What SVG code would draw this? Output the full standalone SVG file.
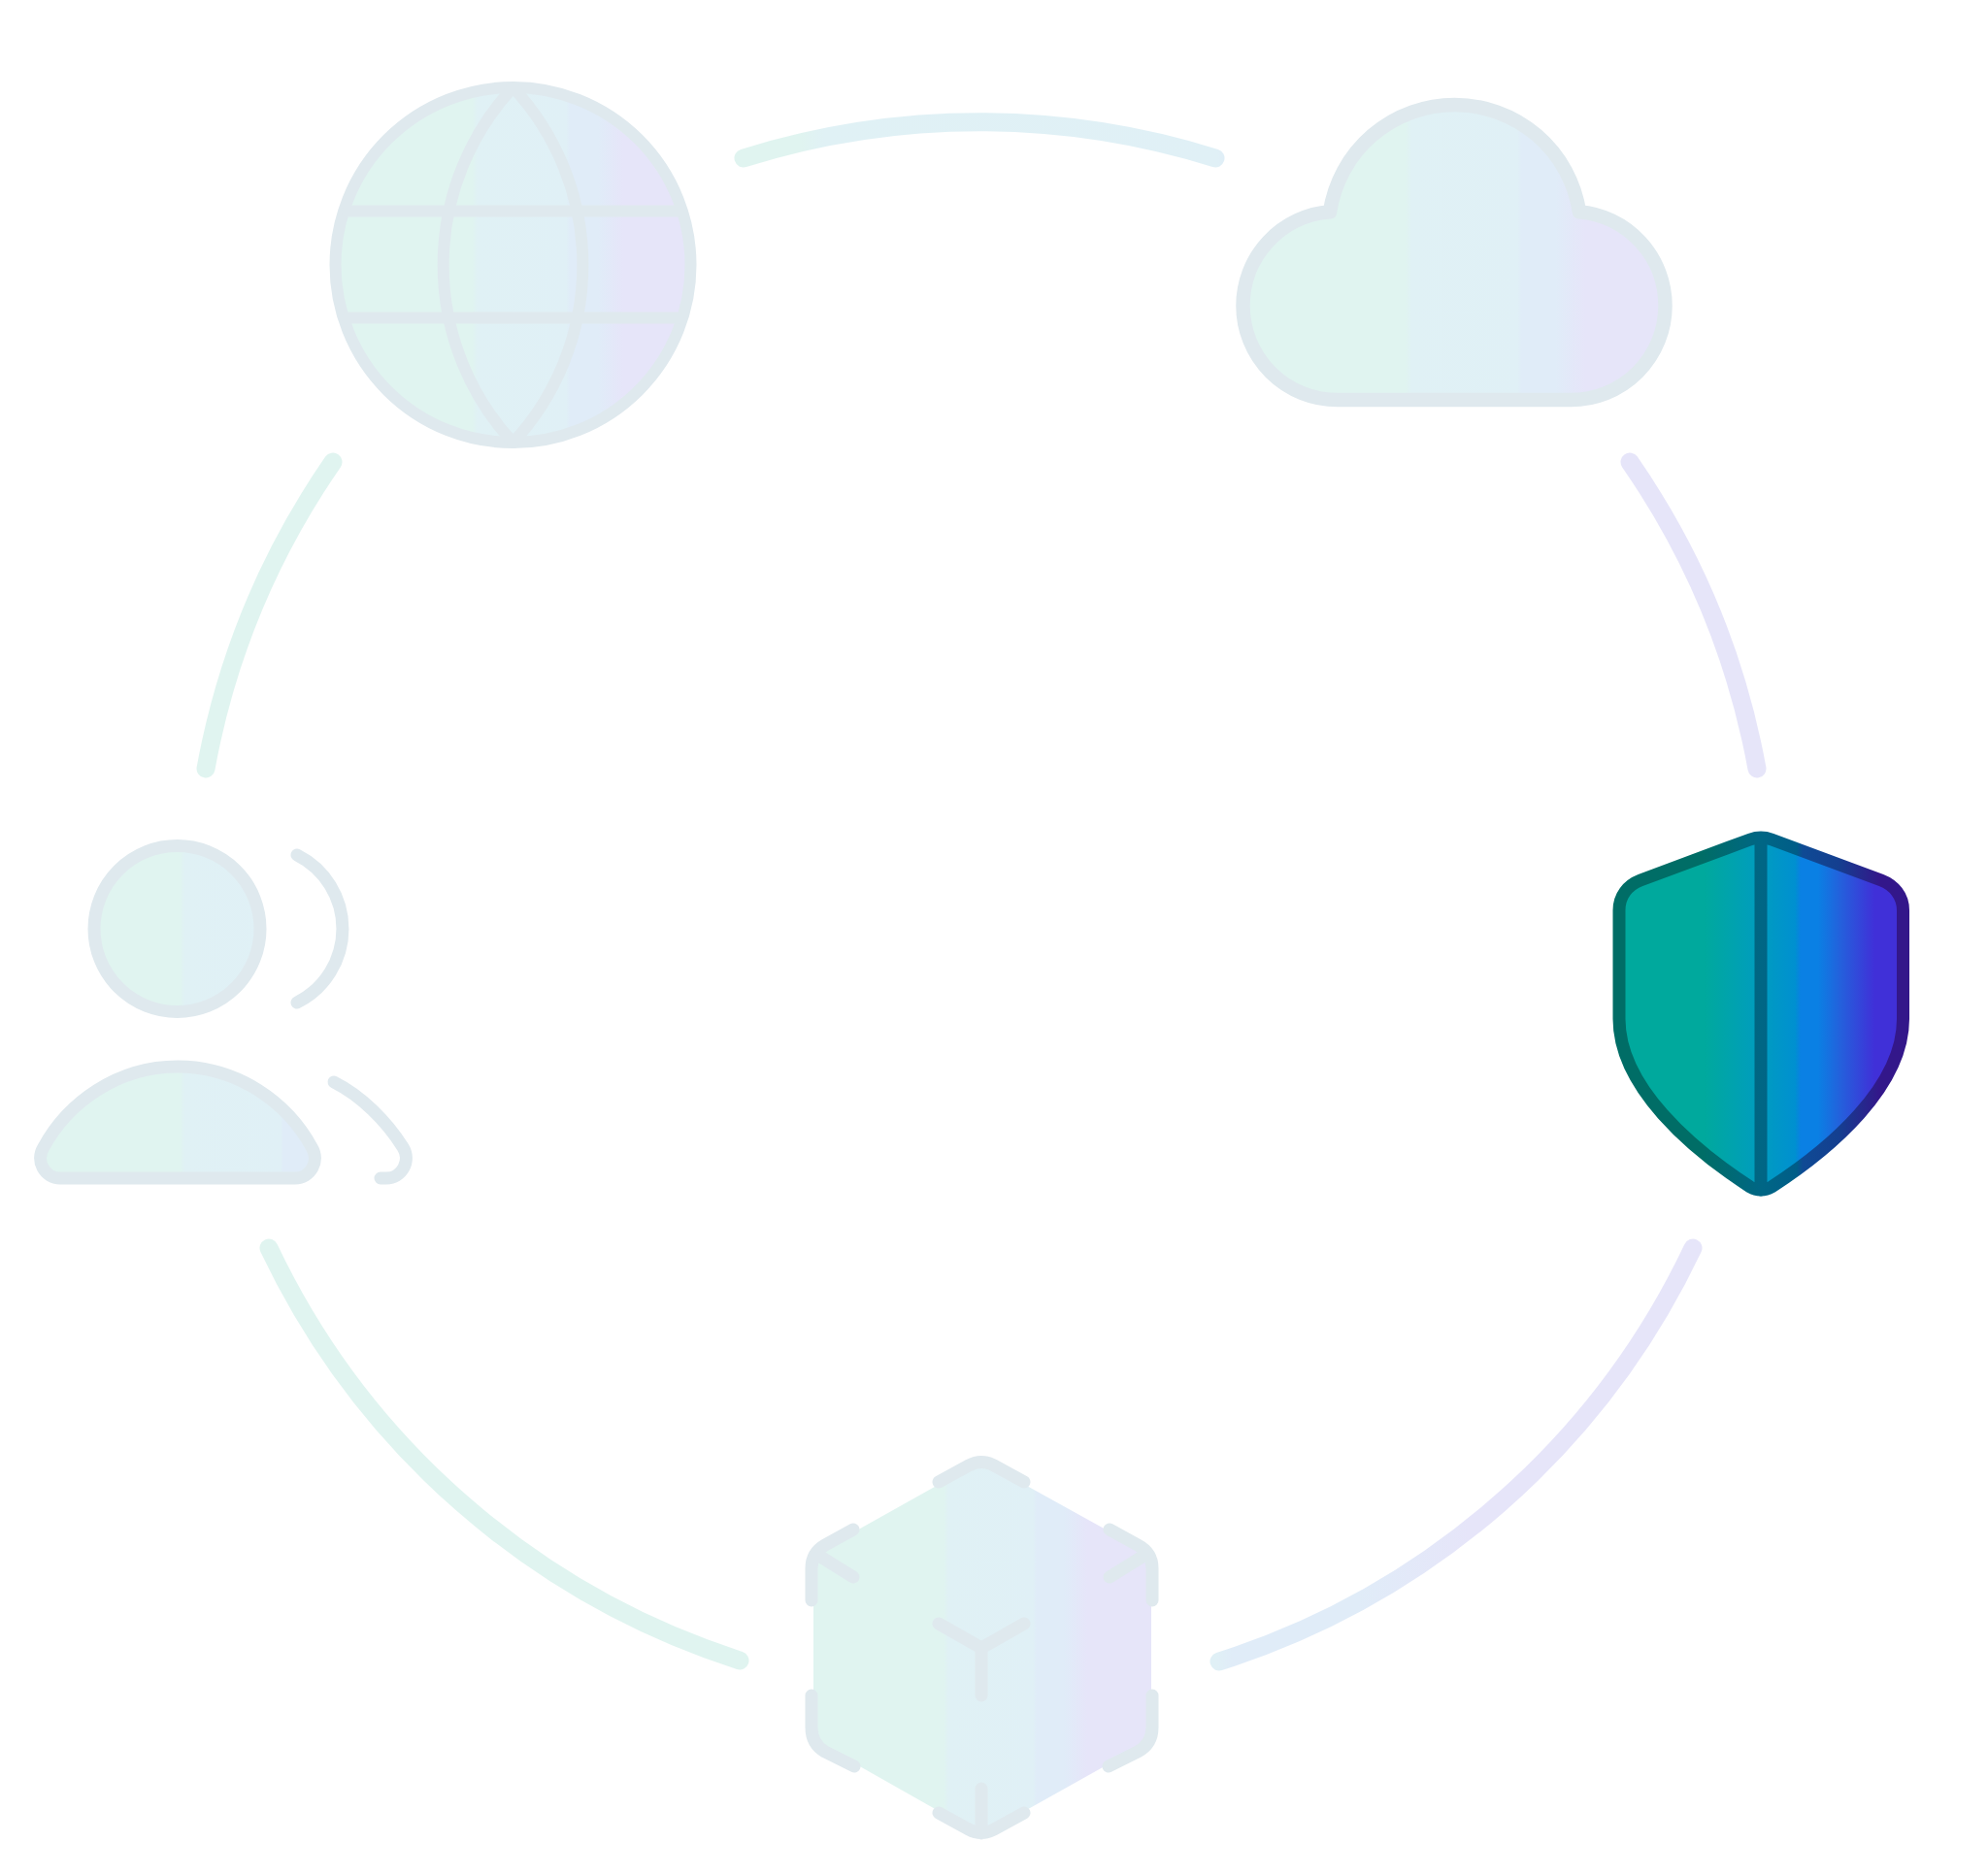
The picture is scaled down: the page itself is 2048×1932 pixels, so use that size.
<svg xmlns="http://www.w3.org/2000/svg" width="2048" height="1932" viewBox="0 0 2048 1932">
<defs>
<linearGradient id="fade"><stop offset="0.385" stop-color="#e0f4f0"/><stop offset="0.4" stop-color="#e0f1f5"/><stop offset="0.65" stop-color="#e0f0f6"/><stop offset="0.66" stop-color="#e0ecf8"/><stop offset="0.74" stop-color="#e0ecf8"/><stop offset="0.81" stop-color="#e6e5f9"/></linearGradient>
<linearGradient id="arcfade" href="#fade" gradientUnits="userSpaceOnUse" x1="202" y1="0" x2="1820" y2="0"/>
<linearGradient id="userfade" href="#fade" gradientUnits="userSpaceOnUse" x1="35" y1="0" x2="425" y2="0"/>
<linearGradient id="sf"><stop offset="0.3" stop-color="#00a99d"/><stop offset="0.5" stop-color="#009cc0"/><stop offset="0.62" stop-color="#0090d0"/><stop offset="0.64" stop-color="#0a80e4"/><stop offset="0.7" stop-color="#0a80e4"/><stop offset="0.78" stop-color="#2460dc"/><stop offset="0.9" stop-color="#4030d8"/></linearGradient>
<linearGradient id="ss" gradientUnits="userSpaceOnUse" x1="1662" y1="0" x2="1967" y2="0"><stop offset="0.3" stop-color="#006d66"/><stop offset="0.5" stop-color="#006685"/><stop offset="0.62" stop-color="#005d88"/><stop offset="0.64" stop-color="#0f4a94"/><stop offset="0.76" stop-color="#143f90"/><stop offset="0.9" stop-color="#33178a"/></linearGradient>
</defs>
<style>
.arc{fill:none;stroke:url(#arcfade);stroke-width:19;stroke-linecap:round}
.f{fill:url(#fade)}
.u{fill:url(#userfade)}
.s{fill:none;stroke:#dfe9ee;stroke-linecap:round;stroke-linejoin:round}
.shield{stroke:url(#ss);stroke-width:13;stroke-linecap:round;stroke-linejoin:round}
</style>
<rect width="2048" height="1932" fill="#fff"/>
<g id="connectors">
<path class="arc" d="M766 163A812 812 0 0 1 1252 163"/>
<path class="arc" d="M1679 476A812 812 0 0 1 1810 792"/>
<path class="arc" d="M1744 1286A812 812 0 0 1 1256 1712"/>
<path class="arc" d="M762 1711A812 812 0 0 1 277 1286"/>
<path class="arc" d="M212 792A812 812 0 0 1 343 476"/>
</g>
<g id="globe">
<circle class="f" cx="528.5" cy="273" r="183"/>
<g class="s" stroke-width="12">
<circle cx="528.5" cy="273" r="183"/>
<path d="M528.5 90A269 269 0 0 0 528.5 456A269 269 0 0 0 528.5 90Z"/>
<path d="M358 217.5H699M358 327.5H699"/>
</g>
</g>
<g id="cloud">
<path class="f" d="M1377.5 412H1618.5A97 97 0 0 0 1715.5 315A97 97 0 0 0 1627 218.3A130 130 0 0 0 1370 218.3A97 97 0 0 0 1280.5 315A97 97 0 0 0 1377.5 412Z"/>
<path class="s" stroke-width="14.5" d="M1377.5 412H1618.5A97 97 0 0 0 1715.5 315A97 97 0 0 0 1627 218.3A130 130 0 0 0 1370 218.3A97 97 0 0 0 1280.5 315A97 97 0 0 0 1377.5 412Z"/>
</g>
<g id="shield">
<path class="shield" fill="url(#sf)" d="M1814 1226Q1808 1226 1803 1223C1743 1184 1668 1120 1668 1050V938C1668 923 1677 912 1690 907L1803 865Q1814 861 1825 865L1938 907C1951 912 1960.5 923 1960.5 938V1050C1960.5 1120 1885 1184 1825 1223Q1820 1226 1814 1226Z"/>
<path class="shield" fill="none" d="M1814 864V1226"/>
</g>
<g id="users">
<circle class="u" cx="182.5" cy="957" r="85.5"/>
<path class="u" d="M62 1214H304C320 1214 330 1196 321 1182C296 1136 245 1099 183 1099C121 1099 70 1136 45 1182C36 1196 46 1214 62 1214Z"/>
<g class="s" stroke-width="13">
<circle cx="182.5" cy="957" r="85.5"/>
<path d="M62 1214H304C320 1214 330 1196 321 1182C296 1136 245 1099 183 1099C121 1099 70 1136 45 1182C36 1196 46 1214 62 1214Z"/>
<path d="M306 881A85 85 0 0 1 306 1033"/>
<path d="M344 1115C372 1129 398 1155 415 1182C424 1196 414 1214 398 1214H392"/>
</g>
</g>
<g id="cube">
<path class="f" d="M1011 1505L1186 1602V1793L1011 1891L838 1793V1602Z"/>
<g class="s" stroke-width="13">
<path d="M967 1527L998 1510Q1011 1503 1024 1510L1055 1527"/>
<path d="M879 1576L850 1592Q836 1600 836 1616V1649M842 1602L879 1625"/>
<path d="M1143 1576L1172 1592Q1187 1600 1187 1616V1649M1180 1602L1143 1625"/>
<path d="M836 1747V1780Q836 1797 850 1805L880 1820"/>
<path d="M1187 1747V1780Q1187 1797 1172 1805L1142 1820"/>
<path d="M967 1868L998 1885Q1011 1892 1024 1885L1055 1868M1011 1843V1889"/>
<path d="M967 1673L1011 1698L1055 1673M1011 1698V1747"/>
</g>
</g>
</svg>
